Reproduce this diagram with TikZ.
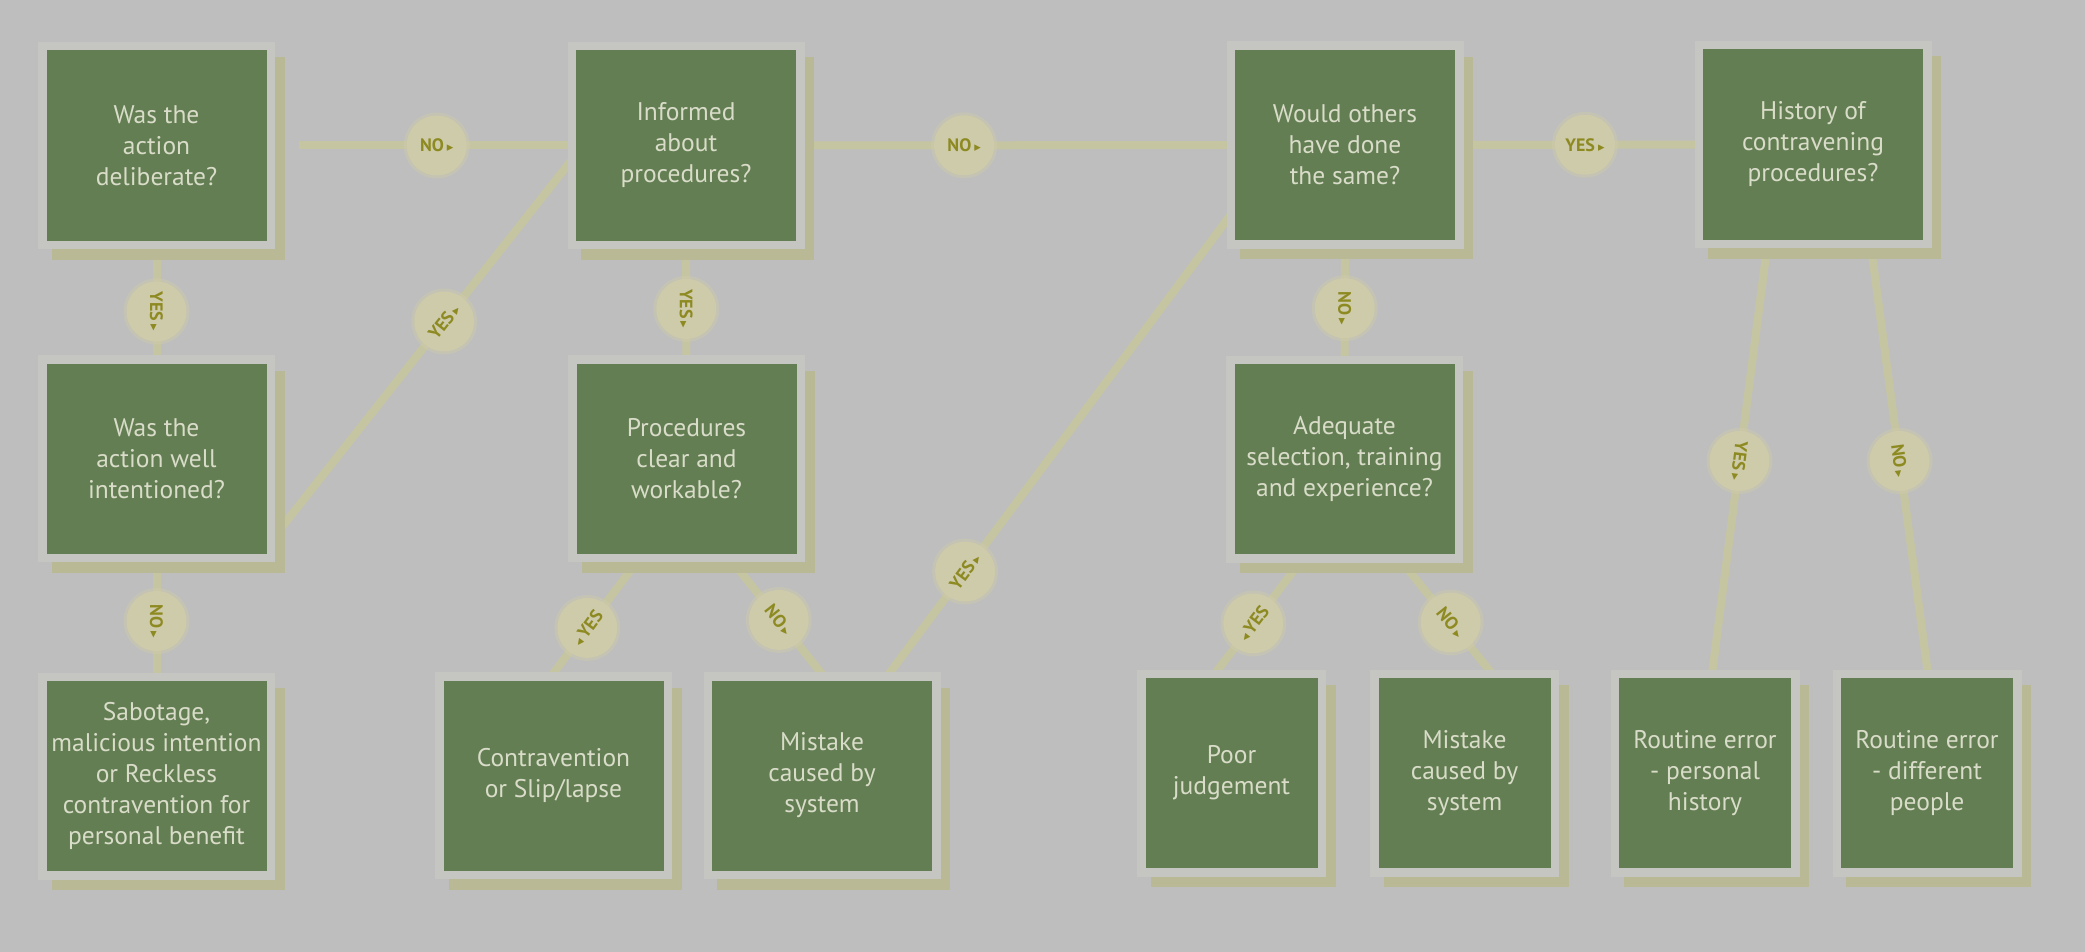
\documentclass[tikz,border=0pt]{standalone}
\usepackage{fontspec}
\setmainfont{PT Sans}
\newfontfamily\symfont{DejaVu Sans}
\usetikzlibrary{calc}
\pgfdeclarelayer{bg}
\pgfdeclarelayer{lines}
\pgfdeclarelayer{shadows}
\pgfsetlayers{bg,lines,shadows,main}
\definecolor{bgc}{HTML}{BEBEBE}
\definecolor{boxc}{HTML}{637E52}
\definecolor{txtc}{HTML}{D8DCC8}
\definecolor{shadc}{HTML}{BAB995}
\definecolor{linec}{HTML}{C6C5A2}
\definecolor{haloc}{HTML}{C5C5C2}
\definecolor{labc}{HTML}{CDCBAA}
\definecolor{labt}{HTML}{8E8A22}
\newcommand\rtri{\,{\symfont\fontsize{13}{13}\selectfont ▸}}
\newcommand\ltri{{\symfont\fontsize{13}{13}\selectfont ◂}\,}
\begin{document}
\begin{tikzpicture}[x=1pt,y=-1pt,
  qbox/.style={rectangle, fill=boxc, text=txtc, minimum width=220pt, minimum height=190pt,
    inner sep=0pt, outer sep=0pt, align=center, font=\fontsize{25.5}{31}\selectfont,
    preaction={draw=haloc, line width=17pt}},
  sbox/.style={qbox, minimum width=172pt},
  conn/.style={draw=linec, line width=8pt},
  lab/.style={circle, fill=labc, minimum size=60pt, inner sep=0pt, text=labt,
    preaction={draw=labc, draw opacity=.45, line width=6pt},
    font=\fontsize{18}{18}\selectfont\bfseries},
]
\begin{pgfonlayer}{bg}
\fill[bgc] (0,0) rectangle (2085,952);
\end{pgfonlayer}
\useasboundingbox (0,0) rectangle (2085,952);

\node[qbox] (B1) at (156.5,145.5) {Was the\\action\\deliberate?};
\node[qbox] (B2) at (686,145.5) {Informed\\about\\procedures?};
\node[qbox] (B3) at (1345,145) {Would others\\have done\\the same?};
\node[qbox] (B4) at (1813,144.5) {History of\\contravening\\procedures?};
\node[qbox] (B5) at (156.5,458.5) {Was the\\action well\\intentioned?};
\node[qbox] (B6) at (686.5,458.5) {Procedures\\clear and\\workable?};
\node[qbox] (B7) at (1344.5,459) {Adequate\\selection, training\\and experience?};
\node[qbox] (B8) at (156.5,776) {Sabotage,\\malicious intention\\or Reckless\\contravention for\\personal benefit};
\node[qbox] (B9) at (553.5,775.5) {Contravention\\or Slip/lapse};
\node[qbox] (B10) at (822,775.5) {Mistake\\caused by\\system};
\node[sbox] (B11) at (1231.5,773) {Poor\\judgement};
\node[sbox] (B12) at (1464.5,773) {Mistake\\caused by\\system};
\node[sbox] (B13) at (1705,773) {Routine error\\- personal\\history};
\node[sbox] (B14) at (1927,773) {Routine error\\- different\\people};

\begin{pgfonlayer}{shadows}
\foreach \n in {B1,B2,B3,B4,B5,B6,B7,B8,B9,B10,B11,B12,B13,B14}
  \fill[shadc] ($(\n.north west)+(5,7)$) rectangle ($(\n.south east)+(18,19)$);
\end{pgfonlayer}

\begin{pgfonlayer}{lines}
\draw[conn, shorten <=32pt] (B1) -- node[lab,pos=.55]{NO\rtri} (B2);
\draw[conn] (B1) -- node[lab,pos=.577,rotate=-90]{YES\rtri} (B5);
\draw[conn] (B5) -- node[lab,pos=.53,rotate=-90]{NO\rtri} (B8);
\draw[conn] ($(B5.south east)+(0,-7)$) -- node[lab,pos=.574,rotate=51.6]{YES\rtri} ($(B2.south west)+(0,-86)$);
\draw[conn] (B2) -- node[lab,pos=.383]{NO\rtri} (B3);
\draw[conn] (B2) -- node[lab,pos=.556,rotate=-90]{YES\rtri} (B6);
\draw[conn] ($(B6.south)+(-43.5,0)$) -- node[lab,pos=.586,rotate=53.4]{\ltri YES} ($(B9.north)+(-5.5,0)$);
\draw[conn] ($(B6.south)+(39.5,0)$) -- node[lab,pos=.523,rotate=-51.7]{NO\rtri} ($(B10.north)+(5,0)$);
\draw[conn] ($(B10.north)+(62,0)$) -- node[lab,pos=.231,rotate=53.4]{YES\rtri} ($(B3.south west)+(0,-31)$);
\draw[conn] (B3) -- node[lab,pos=.524]{YES\rtri} (B4);
\draw[conn] (B3) -- node[lab,pos=.55,rotate=-90]{NO\rtri} (B7);
\draw[conn] ($(B7.south)+(-38,0)$) -- node[lab,pos=.56,rotate=52.8]{\ltri YES} ($(B11.north)+(-20,0)$);
\draw[conn] ($(B7.south)+(51,0)$) -- node[lab,pos=.552,rotate=-51.3]{NO\rtri} ($(B12.north)+(31,0)$);
\draw[conn] ($(B4.south)+(-45,0)$) -- node[lab,pos=.505,rotate=-97.3]{YES\rtri} ($(B13.north)+(6.5,0)$);
\draw[conn] ($(B4.south)+(57,0)$) -- node[lab,pos=.505,rotate=-82.4]{NO\rtri} ($(B14.north)+(1.5,0)$);
\end{pgfonlayer}
\end{tikzpicture}
\end{document}
